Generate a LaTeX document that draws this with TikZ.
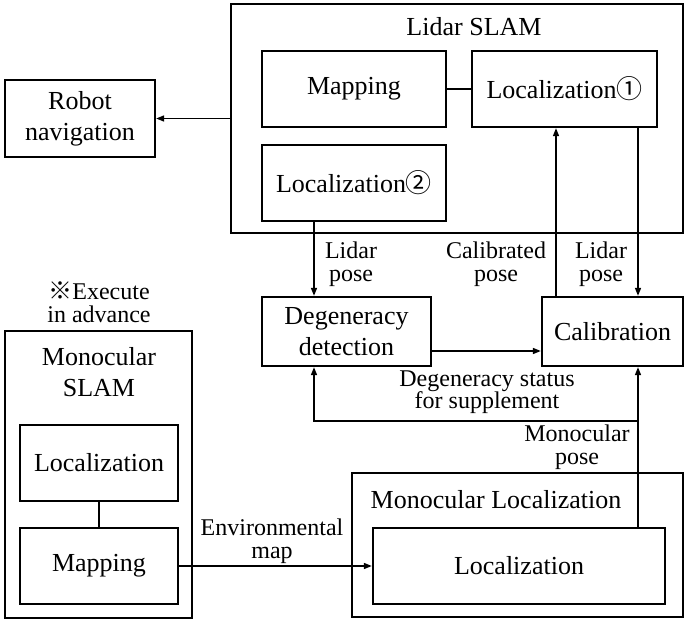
\documentclass[tikz,border=0pt]{standalone}
\usepackage{fontspec}
\setmainfont{Liberation Serif}
\newfontfamily\cjk{Noto Sans CJK JP}
\usetikzlibrary{arrows.meta,calc}
\begin{document}
\begin{tikzpicture}[x=1pt,y=-1pt,
  box/.style={draw,line width=2.3pt,inner sep=0pt,align=center,font=\fontsize{26}{31}\selectfont},
  title/.style={inner sep=0pt,align=center,font=\fontsize{26}{31}\selectfont},
  lab/.style={inner sep=0pt,align=center,font=\fontsize{24}{22.5}\selectfont},
  arr/.style={line width=1.5pt,-{Triangle[length=8pt,width=6pt]}},
  ln/.style={line width=1.5pt}]
\useasboundingbox (0,0) rectangle (685,623);
% Lidar SLAM group
\node[box,minimum width=452pt,minimum height=229pt] (lidar) at (457,118.5) {};
\node[title] (lidart) at (474,27) {Lidar SLAM};
\node[box,minimum width=184pt,minimum height=76pt] (map) at (354,89) {Mapping};
\node[box,minimum width=185pt,minimum height=76pt] (loc1) at (564.5,89) {Localization{\cjk ①}};
\node[box,minimum width=184pt,minimum height=76pt] (loc2) at (354,183) {Localization{\cjk ②}};
\node[box,minimum width=150pt,minimum height=77pt] (robot) at (80,118.5) {Robot\\navigation};
% middle
\node[box,minimum width=169pt,minimum height=69pt] (deg) at (346.5,331.5) {Degeneracy\\detection};
\node[box,minimum width=141pt,minimum height=69pt] (cal) at (612.5,331.5) {Calibration};
% Monocular SLAM
\node[box,minimum width=187pt,minimum height=287pt] (mslam) at (98.5,474.5) {};
\node[title] (mslamt) at (99,372) {Monocular\\SLAM};
\node[box,minimum width=158pt,minimum height=76pt] (lloc) at (99,463) {Localization};
\node[box,minimum width=158pt,minimum height=76pt] (lmap) at (99,566) {Mapping};
% Monocular Localization
\node[box,minimum width=331pt,minimum height=144pt] (mloc) at (517.5,545) {};
\node[title] (mloct) at (496,500) {Monocular Localization};
\node[box,minimum width=292pt,minimum height=76pt] (iloc) at (519,566) {Localization};
% labels
\node[lab] (l1) at (351,264) {Lidar\\pose};
\node[lab] (l2) at (496,264) {Calibrated\\pose};
\node[lab] (l3) at (601,264) {Lidar\\pose};
\node[lab] (l4) at (99,302) {{\cjk ※}Execute\\in advance};
\node[lab] (l5) at (487,392) {Degeneracy status\\for supplement};
\node[lab] (l6) at (577,447) {Monocular\\pose};
\node[lab] (l7) at (272,541) {Environmental\\map};
% helper coordinates
\coordinate (xa) at (314,0);
\coordinate (xb) at (556,0);
\coordinate (xc) at (638,0);
\coordinate (ya) at (0,351);
\coordinate (jn) at (638,421);
% connectors
\draw[arr] (lidar.west) -- (robot.east);
\draw[ln] (map.east) -- (loc1.west);
\draw[arr] (loc2.south -| xa) -- (deg.north -| xa);
\draw[arr] (cal.north -| xb) -- (loc1.south -| xb);
\draw[arr] (loc1.south -| xc) -- (cal.north -| xc);
\draw[arr] (deg.east |- ya) -- (cal.west |- ya);
\draw[arr] (iloc.north -| xc) -- (cal.south -| xc);
\draw[arr] (jn) -| (deg.south -| xa);
\draw[ln] (lloc.south) -- (lmap.north);
\draw[arr] (lmap.east) -- (iloc.west);
\end{tikzpicture}
\end{document}
